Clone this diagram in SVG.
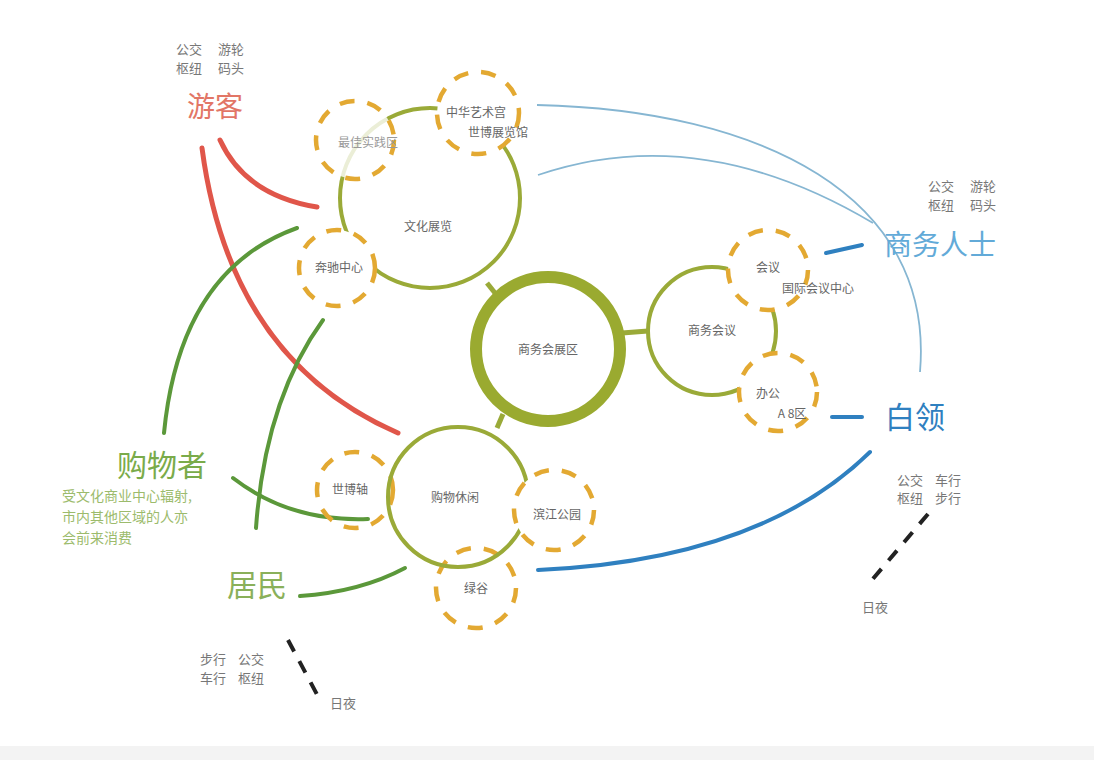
<svg xmlns="http://www.w3.org/2000/svg" width="1094" height="760" viewBox="0 0 1094 760">
<style>
text{font-family:"Noto Sans CJK SC","Noto Sans",sans-serif;}
.solid{fill:none;stroke:#9aaa38;stroke-width:4;}
.dash{fill:#fff;stroke:#e3a932;stroke-width:4.5;stroke-dasharray:15 13;}
.dashn{fill:none;stroke:#e3a932;stroke-width:4.5;stroke-dasharray:15 13;}
.lbl{font-size:12px;fill:#666;text-anchor:middle;}
.small{font-size:13px;fill:#777;}
.red{fill:none;stroke:#e0564a;stroke-width:5;stroke-linecap:round;}
.grn{fill:none;stroke:#5b983a;stroke-width:4;stroke-linecap:round;}
.bl1{fill:none;stroke:#86b6d2;stroke-width:1.8;}
.bl2{fill:none;stroke:#2f80c0;stroke-width:4;stroke-linecap:round;}
.blk{fill:none;stroke:#222;stroke-width:4;stroke-dasharray:13 11;}
.lnk{stroke:#9aaa38;stroke-width:5;}
</style>
<rect x="0" y="0" width="1094" height="760" fill="#fff"/>
<rect x="0" y="746" width="1094" height="14" fill="#f3f3f3"/>

<g id="connectors">
<path class="red" d="M220,140 Q245,195 317,207"/>
<path class="red" d="M202,148 Q230,360 398,433"/>
<path class="grn" d="M164,433 Q180,270 297,228"/>
<path class="grn" d="M323,320 Q265,400 256,528"/>
<path class="grn" d="M233,478 Q290,522 368,519"/>
<path class="grn" d="M300,596 Q360,592 405,568"/>
<path class="bl1" d="M537,105 C760,110 935,195 920,372"/>
<path class="bl1" d="M538,175 Q700,120 873,223"/>
<path class="bl2" d="M826,253 L862,245"/>
<path class="bl2" d="M832,417 L862,417"/>
<path class="bl2" d="M538,570 Q760,560 870,452"/>
<path class="blk" d="M288,640 L320,700"/>
<path class="blk" d="M928,514 L872,580"/>
<line class="lnk" x1="487" y1="283" x2="495" y2="293"/>
<line class="lnk" x1="503" y1="414" x2="497" y2="428"/>
<line class="lnk" x1="622" y1="333" x2="648" y2="331"/>
</g>

<g id="hub">
<circle cx="548" cy="349" r="72" fill="#fff" stroke="#9aaa30" stroke-width="12"/>
<text class="lbl" x="548" y="354" font-size="13">商务会展区</text>
</g>

<g id="culture">
<circle class="solid" cx="430" cy="198" r="90"/>
<text class="lbl" x="428" y="231">文化展览</text>
</g>

<g id="business">
<circle class="solid" cx="712" cy="331" r="64"/>
<text class="lbl" x="712" y="335">商务会议</text>
</g>

<g id="best-practice">
<circle class="dash" cx="355" cy="140" r="39" fill-opacity="0.8"/>
<text class="lbl" x="368" y="147" style="fill:#999">最佳实践区</text>
</g>
<g id="art-palace">
<circle class="dash" cx="478" cy="113" r="41"/>
<text class="lbl" x="476" y="117">中华艺术宫</text>
<text class="lbl" x="498" y="137">世博展览馆</text>
</g>
<g id="benz">
<circle class="dash" cx="337" cy="268" r="38"/>
<text class="lbl" x="339" y="272">奔驰中心</text>
</g>
<g id="meeting">
<circle class="dash" cx="768" cy="270" r="40"/>
<text class="lbl" x="768" y="272">会议</text>
<text class="lbl" x="818" y="293">国际会议中心</text>
</g>
<g id="office">
<circle class="dash" cx="778" cy="392" r="39"/>
<text class="lbl" x="768" y="398">办公</text>
<text class="lbl" x="792" y="418">A 8区</text>
</g>
<g id="expo-axis">
<circle class="dashn" cx="355" cy="490" r="38"/>
<text class="lbl" x="350" y="494">世博轴</text>
</g>
<g id="green-valley">
<circle class="dashn" cx="476" cy="588" r="40"/>
<text class="lbl" x="476" y="593">绿谷</text>
</g>
<g id="shopping">
<circle class="solid" cx="458" cy="497" r="70"/>
<text class="lbl" x="455" y="502">购物休闲</text>
</g>
<g id="riverside">
<circle class="dash" cx="554" cy="510" r="40"/>
<text class="lbl" x="557" y="519">滨江公园</text>
</g>

<g id="tourist">
<text x="215" y="117" font-size="28" fill="#e27666" text-anchor="middle">游客</text>
<text class="small" x="176" y="54">公交</text>
<text class="small" x="218" y="54">游轮</text>
<text class="small" x="176" y="73">枢纽</text>
<text class="small" x="218" y="73">码头</text>
</g>
<g id="businessman">
<text x="884" y="255" font-size="28" fill="#62aad8">商务人士</text>
<text class="small" x="928" y="191">公交</text>
<text class="small" x="970" y="191">游轮</text>
<text class="small" x="928" y="210">枢纽</text>
<text class="small" x="970" y="210">码头</text>
</g>
<g id="whitecollar">
<text x="885" y="428" font-size="30" fill="#2f80c0">白领</text>
<text class="small" x="897" y="485">公交</text>
<text class="small" x="935" y="485">车行</text>
<text class="small" x="897" y="503">枢纽</text>
<text class="small" x="935" y="503">步行</text>
<text class="small" x="862" y="612">日夜</text>
</g>
<g id="shopper">
<text x="162" y="476" font-size="30" fill="#7aab4a" text-anchor="middle">购物者</text>
<text x="62" y="501" font-size="14" fill="#9cbb6c">受文化商业中心辐射,</text>
<text x="62" y="522" font-size="14" fill="#9cbb6c">市内其他区域的人亦</text>
<text x="62" y="543" font-size="14" fill="#9cbb6c">会前来消费</text>
</g>
<g id="resident">
<text x="257" y="596" font-size="30" fill="#8ab05a" text-anchor="middle">居民</text>
<text class="small" x="200" y="664">步行</text>
<text class="small" x="238" y="664">公交</text>
<text class="small" x="200" y="683">车行</text>
<text class="small" x="238" y="683">枢纽</text>
<text class="small" x="330" y="708">日夜</text>
</g>
</svg>
